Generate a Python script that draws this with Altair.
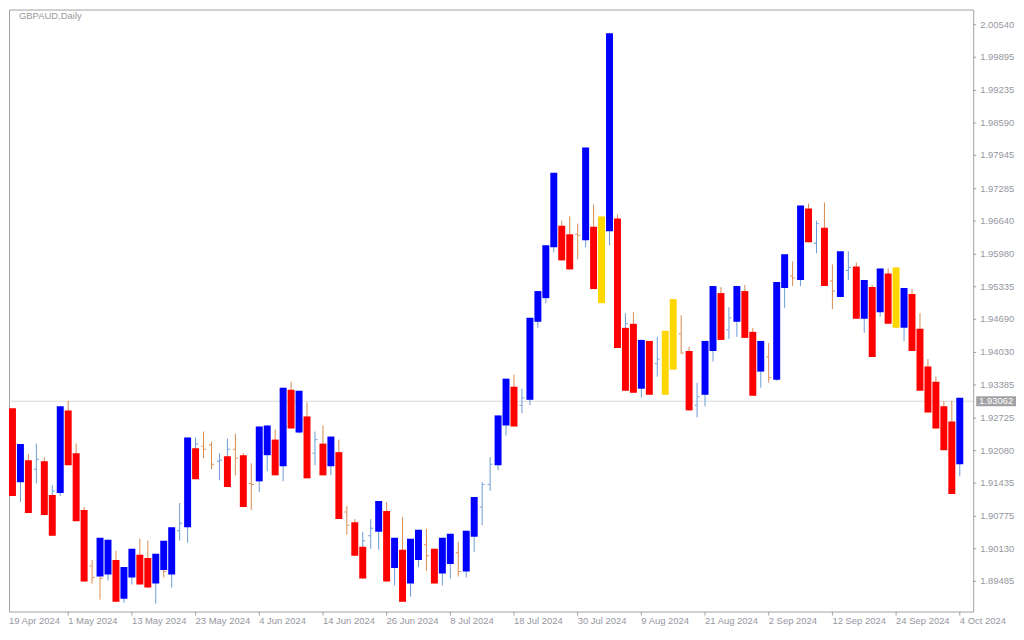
import json
import numpy as np
import pandas as pd
import altair as alt

# ---------------- data ----------------
symbol_title = "GBPAUD,Daily"
tick_labels = ["19 Apr 2024", "1 May 2024", "13 May 2024", "23 May 2024", "4 Jun 2024",
               "14 Jun 2024", "26 Jun 2024", "8 Jul 2024", "18 Jul 2024", "30 Jul 2024",
               "9 Aug 2024", "21 Aug 2024", "2 Sep 2024", "12 Sep 2024", "24 Sep 2024",
               "4 Oct 2024"]
tick_every = 8
price_ticks = [2.00540, 1.99895, 1.99235, 1.98590, 1.97945, 1.97285, 1.96640, 1.95980,
               1.95335, 1.94690, 1.94030, 1.93385, 1.92725, 1.92080, 1.91435, 1.90775,
               1.90130, 1.89485]
current_price = 1.93062

opens = [1.9448, 1.9286, 1.9151, 1.9183, 1.9171, 1.9181, 1.9053, 1.9130, 1.9282, 1.9197,
         1.9084, 1.8979, 1.9023, 1.8968, 1.8985, 1.8920, 1.8962, 1.8995, 1.8989, 1.8950,
         1.9017, 1.8968, 1.9049, 1.9062, 1.9161, 1.9217, 1.9219, 1.9187, 1.9151, 1.9211,
         1.9193, 1.9143, 1.9153, 1.9205, 1.9224, 1.9183, 1.9323, 1.9250, 1.9270, 1.9203,
         1.9217, 1.9183, 1.9199, 1.9086, 1.9060, 1.8964, 1.9039, 1.9053, 1.9082, 1.8981,
         1.9005, 1.8950, 1.8997, 1.9021, 1.9007, 1.8969, 1.8989, 1.9005, 1.8973, 1.9043,
         1.9096, 1.9141, 1.9185, 1.9264, 1.9329, 1.9298, 1.9315, 1.9470, 1.9517, 1.9618,
         1.9649, 1.9632, 1.9638, 1.9632, 1.9647, 1.9667, 1.9649, 1.9663, 1.9339, 1.9454,
         1.9337, 1.9420, 1.9381, 1.9440, 1.9503, 1.9440, 1.9400, 1.9298, 1.9325, 1.9412,
         1.9515, 1.9448, 1.9470, 1.9519, 1.9438, 1.9371, 1.9394, 1.9355, 1.9537, 1.9555,
         1.9553, 1.9683, 1.9620, 1.9645, 1.9545, 1.9519, 1.9566, 1.9568, 1.9475, 1.9527,
         1.9489, 1.9555, 1.9566, 1.9458, 1.9513, 1.9444, 1.9369, 1.9339, 1.9290, 1.9260,
         1.9187]
highs = [1.9479, 1.9292, 1.9221, 1.9201, 1.9222, 1.9195, 1.9139, 1.9296, 1.9307, 1.9222,
         1.9096, 1.8991, 1.9031, 1.9031, 1.9009, 1.8977, 1.9013, 1.9033, 1.9029, 1.9003,
         1.9025, 1.9056, 1.9104, 1.9234, 1.9234, 1.9246, 1.9226, 1.9203, 1.9232, 1.9242,
         1.9203, 1.9183, 1.9256, 1.9258, 1.9250, 1.9333, 1.9345, 1.9327, 1.9304, 1.9246,
         1.9258, 1.9236, 1.9230, 1.9098, 1.9072, 1.9047, 1.9072, 1.9108, 1.9106, 1.9035,
         1.9076, 1.9033, 1.9051, 1.9053, 1.9013, 1.9035, 1.9043, 1.9027, 1.9049, 1.9116,
         1.9145, 1.9195, 1.9278, 1.9351, 1.9359, 1.9331, 1.9472, 1.9525, 1.9616, 1.9760,
         1.9665, 1.9673, 1.9659, 1.9810, 1.9697, 1.9673, 2.0037, 1.9677, 1.9481, 1.9483,
         1.9428, 1.9426, 1.9434, 1.9446, 1.9509, 1.9477, 1.9414, 1.9343, 1.9426, 1.9535,
         1.9533, 1.9493, 1.9535, 1.9537, 1.9452, 1.9426, 1.9422, 1.9543, 1.9598, 1.9584,
         1.9695, 1.9699, 1.9665, 1.9701, 1.9578, 1.9604, 1.9604, 1.9582, 1.9547, 1.9537,
         1.9570, 1.9570, 1.9572, 1.9531, 1.9529, 1.9481, 1.9390, 1.9355, 1.9306, 1.9307,
         1.9313]
lows = [1.9256, 1.9118, 1.9106, 1.9084, 1.9143, 1.9080, 1.9039, 1.9118, 1.9179, 1.9068,
        1.8948, 1.8944, 1.8912, 1.8950, 1.8908, 1.8906, 1.8942, 1.8942, 1.8936, 1.8904,
        1.8956, 1.8936, 1.9029, 1.9025, 1.9151, 1.9193, 1.9171, 1.9149, 1.9136, 1.9159,
        1.9096, 1.9090, 1.9126, 1.9167, 1.9159, 1.9147, 1.9252, 1.9242, 1.9153, 1.9179,
        1.9159, 1.9159, 1.9072, 1.9041, 1.8999, 1.8954, 1.9013, 1.9011, 1.8948, 1.8940,
        1.8908, 1.8918, 1.8977, 1.8969, 1.8944, 1.8940, 1.8954, 1.8958, 1.8956, 1.9007,
        1.9060, 1.9128, 1.9169, 1.9238, 1.9256, 1.9282, 1.9298, 1.9452, 1.9501, 1.9602,
        1.9586, 1.9568, 1.9588, 1.9612, 1.9529, 1.9501, 1.9616, 1.9412, 1.9327, 1.9323,
        1.9313, 1.9319, 1.9355, 1.9319, 1.9369, 1.9400, 1.9288, 1.9274, 1.9296, 1.9385,
        1.9428, 1.9430, 1.9434, 1.9432, 1.9317, 1.9333, 1.9343, 1.9347, 1.9491, 1.9535,
        1.9535, 1.9622, 1.9600, 1.9535, 1.9489, 1.9513, 1.9547, 1.9470, 1.9442, 1.9394,
        1.9474, 1.9460, 1.9452, 1.9426, 1.9406, 1.9327, 1.9284, 1.9252, 1.9209, 1.9122,
        1.9157]
closes = [1.9270, 1.9124, 1.9215, 1.9090, 1.9191, 1.9086, 1.9128, 1.9290, 1.9185, 1.9074,
          1.8954, 1.8956, 1.8954, 1.9025, 1.8914, 1.8971, 1.9007, 1.8948, 1.8942, 1.8997,
          1.8968, 1.9051, 1.9064, 1.9228, 1.9221, 1.9211, 1.9181, 1.9189, 1.9211, 1.9193,
          1.9102, 1.9141, 1.9250, 1.9252, 1.9165, 1.9327, 1.9258, 1.9321, 1.9159, 1.9230,
          1.9165, 1.9230, 1.9078, 1.9060, 1.9005, 1.9029, 1.9054, 1.9102, 1.8954, 1.9029,
          1.8914, 1.9027, 1.9045, 1.8999, 1.8950, 1.9029, 1.9037, 1.8968, 1.9043, 1.9110,
          1.9141, 1.9181, 1.9272, 1.9345, 1.9262, 1.9313, 1.9466, 1.9519, 1.9610, 1.9754,
          1.9592, 1.9574, 1.9636, 1.9804, 1.9535, 1.9507, 2.0031, 1.9418, 1.9460, 1.9329,
          1.9422, 1.9325, 1.9390, 1.9325, 1.9375, 1.9402, 1.9294, 1.9315, 1.9420, 1.9529,
          1.9434, 1.9472, 1.9529, 1.9438, 1.9323, 1.9420, 1.9353, 1.9537, 1.9592, 1.9551,
          1.9689, 1.9628, 1.9659, 1.9541, 1.9525, 1.9598, 1.9572, 1.9475, 1.9541, 1.9400,
          1.9564, 1.9466, 1.9458, 1.9525, 1.9412, 1.9333, 1.9290, 1.9258, 1.9215, 1.9128,
          1.93062]

# indicator bodies (upper edge, lower edge, colour code B/R/Y, None = no body)
body_top = [None, 1.9292, 1.9221, 1.9189, None, 1.9187, 1.9120, 1.9296, 1.9288, 1.9203,
            1.9090, None, 1.9035, 1.9031, 1.8991, 1.8977, 1.9013, 1.9001, 1.8995, 1.9003,
            1.9029, 1.9056, None, 1.9234, 1.9213, None, None, None, 1.9197, None,
            1.9199, None, 1.9256, 1.9258, 1.9230, 1.9333, 1.9329, 1.9327, 1.9276, None,
            1.9222, 1.9236, 1.9205, None, 1.9066, 1.9017, None, 1.9108, 1.9088, 1.9035,
            1.9011, 1.9033, 1.9051, None, 1.9013, 1.9035, 1.9043, None, 1.9049, 1.9116,
            None, None, 1.9278, 1.9351, 1.9335, None, 1.9472, 1.9525, 1.9616, 1.9760,
            1.9655, 1.9638, None, 1.9810, 1.9653, 1.9673, 2.0037, 1.9669, 1.9452, 1.9460,
            1.9428, 1.9426, None, 1.9446, 1.9509, None, 1.9406, None, 1.9426, 1.9535,
            1.9521, None, 1.9535, 1.9525, 1.9444, 1.9426, None, 1.9543, 1.9598, None,
            1.9695, 1.9689, None, 1.9651, None, 1.9604, None, 1.9574, 1.9547, 1.9533,
            1.9570, 1.9560, 1.9572, 1.9531, 1.9519, 1.9450, 1.9375, 1.9345, 1.9296, 1.9266,
            1.9313]
body_bottom = [None, 1.9118, 1.9145, 1.9084, None, 1.9080, 1.9039, 1.9124, 1.9179, 1.9068,
               1.8948, None, 1.8958, 1.8962, 1.8908, 1.8914, 1.8956, 1.8942, 1.8936, 1.8944,
               1.8971, 1.8962, None, 1.9056, 1.9151, None, None, None, 1.9136, None,
               1.9096, None, 1.9147, 1.9199, 1.9159, 1.9177, 1.9252, 1.9244, 1.9153, None,
               1.9159, 1.9177, 1.9072, None, 1.8999, 1.8954, None, 1.9047, 1.8948, 1.8975,
               1.8908, 1.8944, 1.8991, None, 1.8944, 1.8964, 1.8983, None, 1.8968, 1.9037,
               None, None, 1.9179, 1.9258, 1.9256, None, 1.9309, 1.9464, 1.9511, 1.9612,
               1.9586, 1.9568, None, 1.9626, 1.9529, 1.9501, 1.9644, 1.9412, 1.9327, 1.9323,
               1.9331, 1.9319, None, 1.9319, 1.9369, None, 1.9288, None, 1.9319, 1.9406,
               1.9428, None, 1.9464, 1.9432, 1.9317, 1.9365, None, 1.9349, 1.9531, None,
               1.9547, 1.9622, None, 1.9535, None, 1.9513, None, 1.9470, 1.9470, 1.9394,
               1.9483, 1.9460, 1.9452, 1.9452, 1.9406, 1.9327, 1.9284, 1.9252, 1.9209, 1.9122,
               1.9181]
body_color = [None, "R", "B", "R", None, "R", "R", "B", "R", "R",
              "R", None, "B", "B", "R", "B", "B", "R", "R", "B",
              "B", "B", None, "B", "R", None, None, None, "R", None,
              "R", None, "B", "B", "R", "B", "R", "B", "R", None,
              "R", "B", "R", None, "R", "R", None, "B", "R", "B",
              "R", "B", "B", None, "R", "B", "B", None, "B", "B",
              None, None, "B", "B", "R", None, "B", "B", "B", "B",
              "R", "R", None, "B", "R", "Y", "B", "R", "R", "R",
              "B", "R", None, "Y", "Y", None, "R", None, "B", "B",
              "R", None, "B", "R", "R", "B", None, "B", "B", None,
              "B", "R", None, "R", None, "B", None, "R", "B", "R",
              "B", "R", "Y", "B", "R", "R", "R", "R", "R", "R",
              "B"]

# ---------------- build tables ----------------
n = len(opens)
df = pd.DataFrame({
    "i": list(range(n)),
    "open": opens, "high": highs, "low": lows, "close": closes,
    "btop": body_top, "bbot": body_bottom, "bcol": body_color,
})
df["dir"] = np.where(df["close"] >= df["open"], "up", "down")
bodies_df = df.dropna(subset=["btop"]).copy()
cur_df = pd.DataFrame({"p": [current_price]})
title_df = pd.DataFrame({"t": [symbol_title]})
tick_df = pd.DataFrame({"i": [k * tick_every for k in range(len(tick_labels))],
                        "lab": tick_labels})
ptick_df = pd.DataFrame({"p": price_ticks})

# ---------------- styling ----------------
GRAY = "#a0a0a0"
LABEL = "#9696a0"
FONT = "Liberation Sans"
FS = 9.5
THIN_UP = "#6b9bd6"
THIN_DOWN = "#d98b4f"

W, H = 969, 605
X_MIN, X_MAX = 0.5625, 121.6875          # 8 px per daily bar
xscale = alt.Scale(domain=[X_MIN, X_MAX], nice=False, zero=False)
yscale = alt.Scale(domain=[1.88884, 2.00843], nice=False, zero=False)

X = alt.X("i:Q", scale=xscale, axis=None)


def Y(field):
    return alt.Y(field, scale=yscale, axis=None)


thin_color = alt.Color("dir:N", scale=alt.Scale(domain=["up", "down"],
                                                range=[THIN_UP, THIN_DOWN]), legend=None)

price_line = alt.Chart(cur_df).mark_rule(color="#d8d8d8", strokeWidth=1).encode(
    y=Y("p:Q")
)

wicks = alt.Chart(df).mark_rule(strokeWidth=1, clip=True).encode(
    x=X, y=Y("low:Q"), y2="high:Q", color=thin_color,
)

open_ticks = alt.Chart(df).mark_tick(orient="horizontal", size=2, thickness=1,
                                     xOffset=-1.5, opacity=1, clip=True).encode(
    x=X, y=Y("open:Q"), color=thin_color
)
close_ticks = alt.Chart(df).mark_tick(orient="horizontal", size=2, thickness=1,
                                      xOffset=1.5, opacity=1, clip=True).encode(
    x=X, y=Y("close:Q"), color=thin_color
)

bodies = alt.Chart(bodies_df).mark_rule(strokeWidth=7, strokeCap="butt", clip=True).encode(
    x=X, y=Y("bbot:Q"), y2="btop:Q",
    color=alt.Color("bcol:N", scale=alt.Scale(domain=["B", "R", "Y"],
                                              range=["#0000ff", "#ff0000", "#ffd700"]),
                    legend=None),
)

# x axis drawn from the tick table: tick marks and date labels
x_ticks = alt.Chart(tick_df).transform_filter(
    "datum.i >= %f" % X_MIN
).mark_rule(color=GRAY, strokeWidth=1).encode(
    x=X, y=alt.value(H), y2=alt.value(H + 4)
)
x_labels = alt.Chart(tick_df).transform_calculate(
    lx="max(datum.i, %f)" % X_MIN
).mark_text(color=LABEL, font=FONT, fontSize=FS, align="left", baseline="top").encode(
    x=alt.X("lx:Q", scale=xscale, axis=None), y=alt.value(H + 5), text="lab:N"
)

# y axis (right) drawn from the price-tick table
y_ticks = alt.Chart(ptick_df).mark_rule(color=GRAY, strokeWidth=1).encode(
    y=Y("p:Q"), x=alt.value(W), x2=alt.value(W + 3)
)
y_labels = alt.Chart(ptick_df).mark_text(color=LABEL, font=FONT, fontSize=FS,
                                         align="left", baseline="middle").encode(
    y=Y("p:Q"), x=alt.value(W + 7), text=alt.Text("p:Q", format=".5f")
)

# current-price marker: grey box + white text
cur_box = alt.Chart(cur_df).mark_rect(color="#a2a2a6", yOffset=-5, y2Offset=5).encode(
    x=alt.value(W + 3), x2=alt.value(W + 43), y=Y("p:Q"), y2="p:Q",
)
cur_text = alt.Chart(cur_df).mark_text(color="white", font=FONT, fontSize=FS,
                                       align="center", baseline="middle").encode(
    x=alt.value(W + 23), y=Y("p:Q"), text=alt.Text("p:Q", format=".5f"),
)

title_text = alt.Chart(title_df).mark_text(color="#999999", font=FONT, fontSize=FS,
                                           align="left", baseline="top").encode(
    x=alt.value(10), y=alt.value(2), text="t:N"
)

chart = alt.layer(
    price_line, wicks, open_ticks, close_ticks, bodies,
    x_ticks, x_labels, y_ticks, y_labels, cur_box, cur_text, title_text
).resolve_scale(color="independent").properties(
    width=W, height=H, padding=0, background="white"
).configure_view(stroke=GRAY, strokeWidth=1, fill="white")

chart.save("out.html", embed_options={"renderer": "svg", "actions": False})
